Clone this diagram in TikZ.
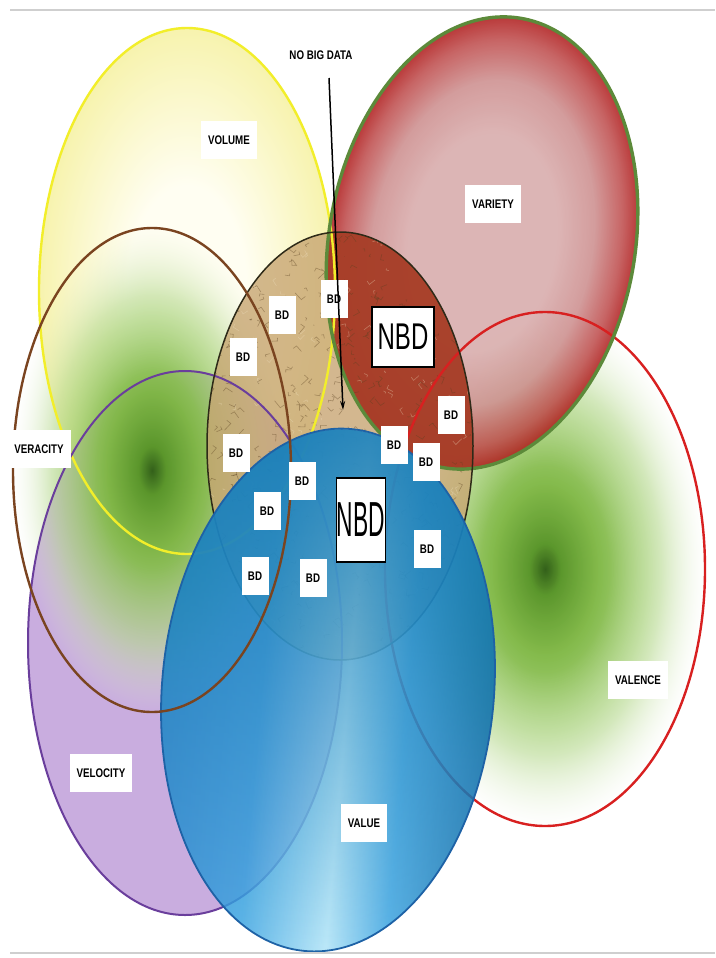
\documentclass[tikz,border=0pt]{standalone}
\usepackage{fontspec}
\usepackage{graphicx}
\setmainfont{Liberation Sans}
\newfontfamily\labfont[FakeStretch=0.78]{Liberation Sans}
\usetikzlibrary{fadings,arrows.meta}

\definecolor{volIn}{HTML}{FFFEF2}
\definecolor{volOut}{HTML}{F7F3AE}
\definecolor{gA}{HTML}{33601A}
\definecolor{gB}{HTML}{5A962A}
\definecolor{gC}{HTML}{7DB642}
\definecolor{gD}{HTML}{A8D27A}
\definecolor{gE}{HTML}{E4F0D2}
\definecolor{rA}{HTML}{D7A9A9}
\definecolor{rB}{HTML}{CC8C8C}
\definecolor{rC}{HTML}{BE4A4A}
\definecolor{rD}{HTML}{AE1818}
\definecolor{velFill}{HTML}{9D6BC5}
\definecolor{stoneTan}{HTML}{C8A673}
\definecolor{redStone}{HTML}{A3301E}
\definecolor{vA}{HTML}{2A8FD2}
\definecolor{vB}{HTML}{3AA5E3}
\definecolor{vC}{HTML}{AEE4F8}
\definecolor{vD}{HTML}{0F6CA8}
\definecolor{vTop}{HTML}{157AB4}
\definecolor{lnYellow}{HTML}{F2EE2A}
\definecolor{lnBrown}{HTML}{7A4420}
\definecolor{lnGreen}{HTML}{5C8A3A}
\definecolor{lnRed}{HTML}{D82020}
\definecolor{lnPurple}{HTML}{6A3E9C}
\definecolor{lnBlue}{HTML}{1E62A6}
\definecolor{lnCore}{HTML}{2E2A18}
\definecolor{ruleGray}{HTML}{CFCFCF}
\definecolor{crackCol}{HTML}{5A4020}
\definecolor{crackLight}{HTML}{F0E0C0}

\pgfdeclareradialshading{greenglow}{\pgfpoint{0bp}{0bp}}{color(0bp)=(gA); color(2.5bp)=(gB); color(8bp)=(gC); color(16bp)=(gD); color(25bp)=(gE); color(50bp)=(gE)}
\pgfdeclareradialshading{redglow}{\pgfpoint{0bp}{0bp}}{color(0bp)=(rA); color(12bp)=(rA); color(18bp)=(rB); color(22.5bp)=(rC); color(25bp)=(rD); color(50bp)=(rD)}
\pgfdeclareradialshading{yellowglow}{\pgfpoint{0bp}{0bp}}{color(0bp)=(volIn); color(10bp)=(volIn); color(25bp)=(volOut); color(50bp)=(volOut)}
\pgfdeclarehorizontalshading{valueshade}{100bp}{color(0bp)=(vA); color(25bp)=(vA); color(40bp)=(vB); color(53bp)=(vC); color(62bp)=(vB); color(75bp)=(vD); color(100bp)=(vD)}
\pgfdeclareradialshading{glowfadeshade}{\pgfpointorigin}{color(0bp)=(pgftransparent!0); color(10bp)=(pgftransparent!5); color(18bp)=(pgftransparent!40); color(25bp)=(pgftransparent!100); color(50bp)=(pgftransparent!100)}
\pgfdeclarefading{glowfade}{\pgfuseshading{glowfadeshade}}
\tikzfading[name=topdark, top color=transparent!0, middle color=transparent!55, bottom color=transparent!100]

\begin{document}
\begin{tikzpicture}[x=1pt,y=-1pt,
  lab/.style={fill=white, inner xsep=7pt, inner ysep=0pt, minimum height=38pt, font=\labfont\bfseries\fontsize{12.5}{13}\selectfont},
  bdbox/.style={fill=white, inner sep=0pt, minimum width=27pt, minimum height=38pt, font=\labfont\bfseries\fontsize{12.5}{13}\selectfont},
  nbdbox/.style={fill=white, draw=black, line width=1.3pt, inner sep=0pt, font=\fontsize{24}{24}\selectfont},
  crack/.style={draw=crackCol, draw opacity=0.4, line width=0.6pt},
  crackhi/.style={draw=crackLight, draw opacity=0.35, line width=0.6pt},
  pVolume/.style={insert path={(187,291) ellipse [x radius=148pt, y radius=263pt]}},
  pVeracity/.style={insert path={(152,470) ellipse [x radius=139pt, y radius=242pt]}},
  pValence/.style={insert path={(545,569) ellipse [x radius=160pt, y radius=257pt]}},
  pVariety/.style={insert path={(482,243) ellipse [x radius=153pt, y radius=228pt, rotate=-10]}},
  pVelocity/.style={insert path={(185,643) ellipse [x radius=157pt, y radius=272pt]}},
  pCentral/.style={insert path={(340,446) ellipse [x radius=133pt, y radius=214pt]}},
  pValue/.style={insert path={(328,690) ellipse [x radius=166pt, y radius=262pt, rotate=-5]}}
]
\useasboundingbox (0,0) rectangle (715,958);
\fill[white] (0,0) rectangle (715,958);

% fills
\shade[shading=yellowglow, pVolume];
\fill[velFill, fill opacity=0.55, pVelocity];
\shade[shading=greenglow, path fading=glowfade, pVeracity];
\shade[shading=greenglow, path fading=glowfade, pValence];
\begin{scope}[transform canvas={shift={(482,243)}, rotate=-10}]
  \shade[shading=redglow, fill opacity=0.85] (0,0) ellipse [x radius=153pt, y radius=228pt];
\end{scope}

% central stone
\fill[stoneTan, fill opacity=0.8, pCentral];
\begin{scope}
  \clip[pCentral];
  \fill[redStone, fill opacity=0.85, pVariety];
  \pgfmathsetseed{11}
  \foreach \k in {1,...,480}{
    \pgfmathsetmacro\xx{205+270*rnd}
    \pgfmathsetmacro\yy{232+428*rnd}
    \pgfmathsetmacro\dx{-7+14*rnd}
    \pgfmathsetmacro\dy{-7+14*rnd}
    \draw[crack] (\xx,\yy) -- ++(\dx,\dy) -- ++({\dy*0.6},{-\dx*0.5});
  }
  \foreach \k in {1,...,200}{
    \pgfmathsetmacro\xx{205+270*rnd}
    \pgfmathsetmacro\yy{232+428*rnd}
    \pgfmathsetmacro\dx{-6+12*rnd}
    \pgfmathsetmacro\dy{-6+12*rnd}
    \draw[crackhi] (\xx,\yy) -- ++(\dx,\dy) -- ++({-\dy*0.5},{\dx*0.6});
  }
\end{scope}

% outlines under value
\draw[lnYellow, line width=2.4pt, pVolume];
\draw[lnRed, line width=2.4pt, pValence];
\draw[lnGreen, line width=3.4pt, pVariety];
\draw[lnPurple, line width=2pt, pVelocity];
\draw[lnCore, line width=1.5pt, pCentral];

% value
\begin{scope}[transform canvas={shift={(328,690)}, rotate=-5}]
  \shade[shading=valueshade, fill opacity=0.82] (0,0) ellipse [x radius=166pt, y radius=262pt];
  \fill[vTop, path fading=topdark, fill opacity=0.85] (0,0) ellipse [x radius=166pt, y radius=262pt];
\end{scope}
\draw[lnBlue, line width=1.8pt, pValue];
\draw[lnBrown, line width=2.4pt, pVeracity];

% rules
\draw[ruleGray, line width=2pt] (10,10) -- (715,10);
\draw[ruleGray, line width=2pt] (10,953) -- (715,953);

% labels
\node[lab, fill=none] (nobig) at (321,55) {NO BIG DATA};
\node[lab] (volume) at (229,140) {VOLUME};
\node[lab] (variety) at (493,204) {VARIETY};
\node[lab] (veracity) at (39,449) {VERACITY};
\node[lab] (valence) at (638,680) {VALENCE};
\node[lab] (velocity) at (101,773) {VELOCITY};
\node[lab] (value) at (364,823) {VALUE};

\node[bdbox] (bd1) at (334,299) {BD};
\node[bdbox] (bd2) at (282,315) {BD};
\node[bdbox] (bd3) at (243,357) {BD};
\node[bdbox] (bd4) at (451,415) {BD};
\node[bdbox] (bd5) at (394,445) {BD};
\node[bdbox] (bd6) at (426,462) {BD};
\node[bdbox] (bd7) at (236,453) {BD};
\node[bdbox] (bd8) at (302,481) {BD};
\node[bdbox] (bd9) at (267,511) {BD};
\node[bdbox] (bd10) at (427,549) {BD};
\node[bdbox] (bd11) at (255,576) {BD};
\node[bdbox] (bd12) at (313,578) {BD};

\node[nbdbox, minimum width=62pt, minimum height=60pt] (nbd1) at (403,337) {\scalebox{1}[1.55]{NBD}};
\node[nbdbox, minimum width=49pt, minimum height=84pt] (nbd2) at (361,520) {\scalebox{0.95}[2.05]{NBD}};

% arrow
\coordinate (arrTail) at (329,78);
\coordinate (arrHead) at (343,410);
\draw[black, line width=1.5pt, -{Stealth[length=9pt,width=5pt]}] (arrTail) -- (arrHead);
\end{tikzpicture}
\end{document}
